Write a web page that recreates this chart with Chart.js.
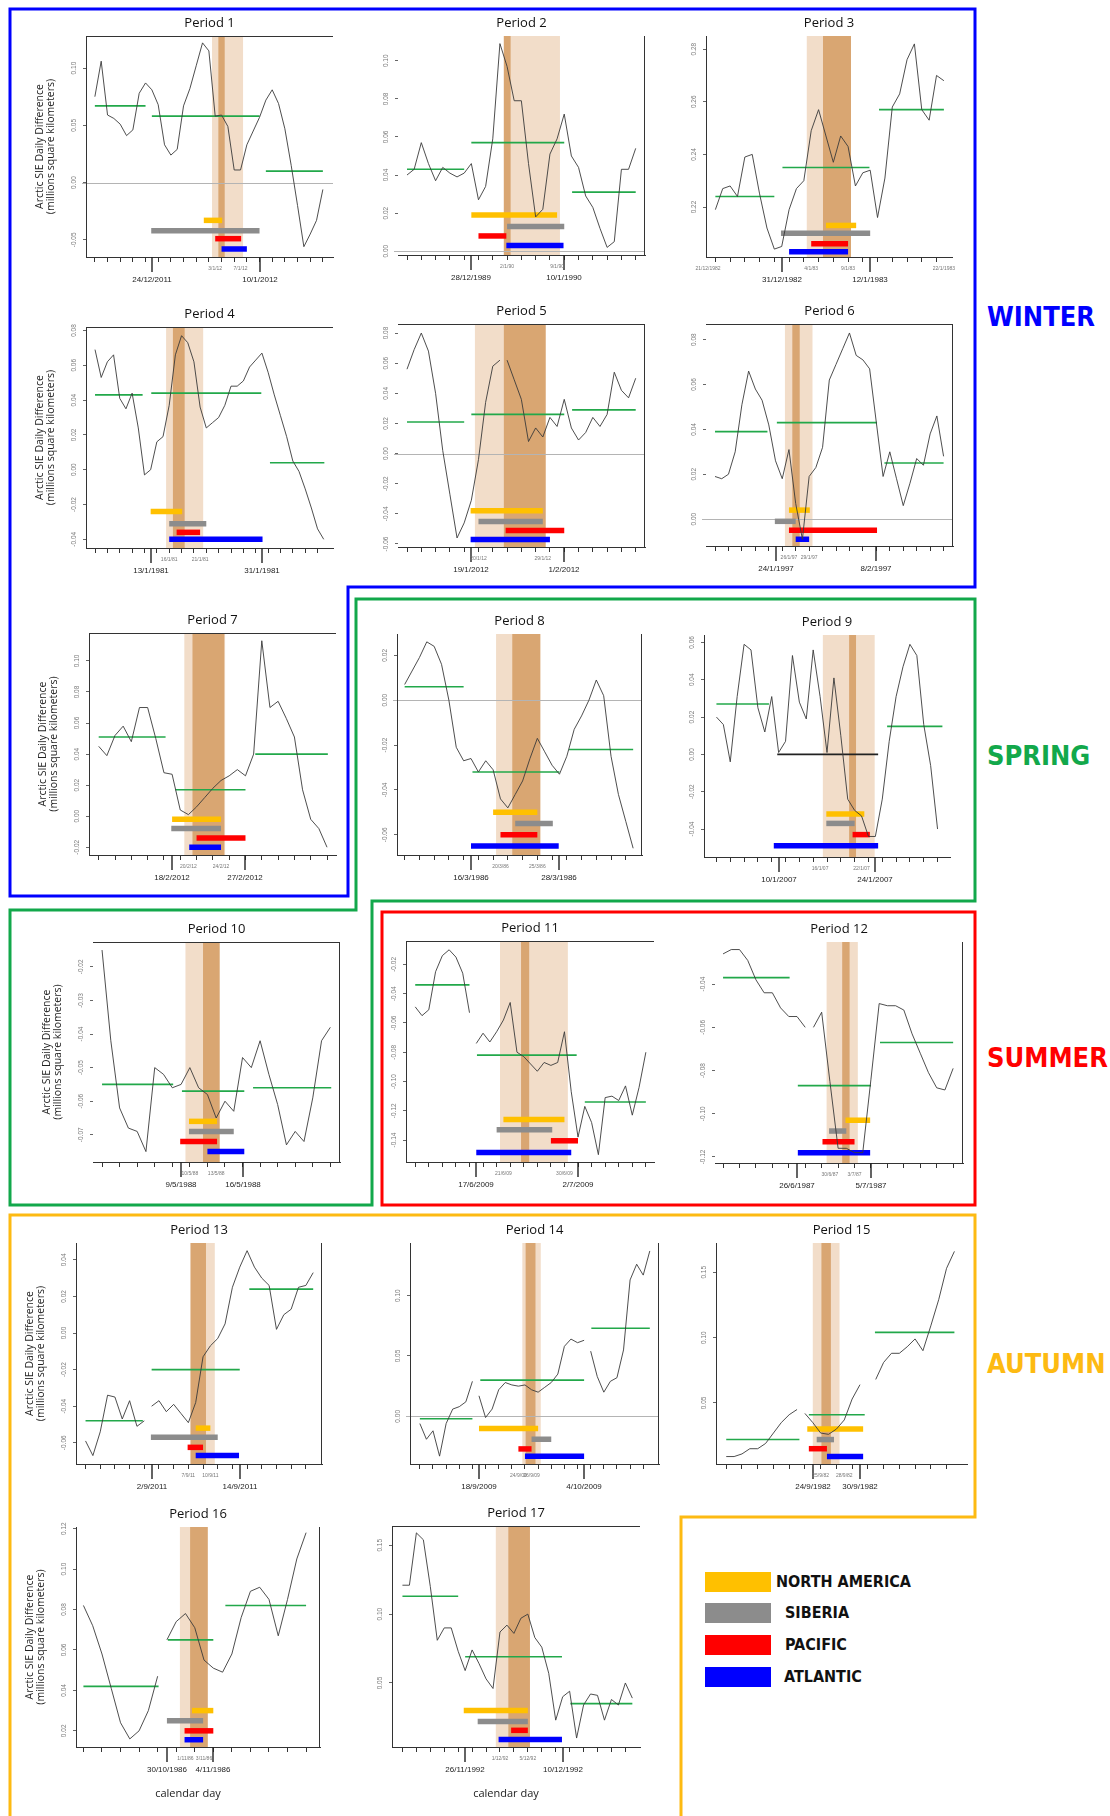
<!DOCTYPE html>
<html>
<head>
<meta charset="utf-8">
<script src="https://cdn.jsdelivr.net/npm/chart.js@4.4.1/dist/chart.umd.min.js"></script>
<style>
  body{margin:0;background:#fff;width:1110px;height:1816px;position:relative;overflow:hidden;font-family:'Open Sans',sans-serif}
  canvas{position:absolute}
  .season{position:absolute;left:987px;font:bold 27px 'DejaVu Sans Condensed','DejaVu Sans',sans-serif;line-height:27px}
  .lg-box{position:absolute;left:705px;width:66px;height:20px}
  .lg-txt{position:absolute;font:bold 16px 'DejaVu Sans Condensed','DejaVu Sans',sans-serif;line-height:20px;color:#111}
</style>
</head>
<body>
<svg width="1110" height="1816" style="position:absolute;left:0;top:0">
  <polygon points="10,9 975,9 975,587 348,587 348,896 10,896" fill="none" stroke="#0000ff" stroke-width="3"/>
  <polygon points="356,599 975,599 975,901 372,901 372,1205 10,1205 10,910 356,910" fill="none" stroke="#12a84b" stroke-width="3"/>
  <rect x="382" y="912" width="593" height="293" fill="none" stroke="#ff0000" stroke-width="3"/>
  <polyline points="10,1816 10,1215 975,1215 975,1517 681,1517 681,1816" fill="none" stroke="#fdba12" stroke-width="3"/>
</svg>
<div class="season" style="top:303px;color:#0000ff">WINTER</div>
<div class="season" style="top:742px;color:#12a84b">SPRING</div>
<div class="season" style="top:1044px;color:#ff0000">SUMMER</div>
<div class="season" style="top:1350px;color:#fdba12">AUTUMN</div>
<div id="legend"></div>

<script>
/* ---- regions (bar colours + legend) ---- */
const regions = ['NORTH AMERICA','SIBERIA','PACIFIC','ATLANTIC'];
const regionColors = ['#ffc000','#8c8c8c','#ff0000','#0000ff'];

/* ---- series: daily SIE difference, one value per day ---- */
const p1Y = [0.075,0.106,0.059,0.056,0.051,0.041,0.046,0.078,0.087,0.081,0.068,0.033,0.024,0.029,0.067,0.082,0.102,0.122,0.115,0.058,0.059,0.049,0.011,0.011,0.033,0.045,0.057,0.072,0.081,0.069,0.047,0.015,-0.020,-0.056,-0.045,-0.033,-0.006];
const p2Y = [0.040,0.043,0.057,0.046,0.037,0.044,0.041,0.039,0.041,0.046,0.027,0.034,0.059,0.109,0.097,0.079,0.079,0.046,0.018,0.022,0.051,0.059,0.072,0.050,0.044,0.029,0.023,0.012,0.002,0.005,0.043,0.043,0.054];
const p3Y = [0.219,0.227,0.228,0.224,0.239,0.240,0.225,0.212,0.204,0.205,0.219,0.227,0.230,0.249,0.257,0.247,0.237,0.247,0.243,0.228,0.233,0.234,0.216,0.231,0.258,0.263,0.276,0.282,0.257,0.253,0.270,0.268];
const p4Y = [0.069,0.053,0.062,0.066,0.041,0.035,0.044,0.024,-0.003,0.000,0.016,0.019,0.037,0.066,0.077,0.073,0.062,0.036,0.024,0.027,0.030,0.037,0.048,0.048,0.051,0.059,0.063,0.067,0.056,0.043,0.031,0.019,0.005,-0.001,-0.011,-0.022,-0.034,-0.040];
const p5Y = [0.056,0.069,0.080,0.068,0.040,0.002,-0.027,-0.056,-0.046,-0.031,-0.004,0.034,0.058,0.062,0.062,0.049,0.036,0.008,0.017,0.011,0.024,0.018,0.036,0.017,0.009,0.014,0.024,0.018,0.026,0.054,0.042,0.037,0.050];
const p6Y = [0.019,0.018,0.020,0.030,0.051,0.066,0.058,0.053,0.042,0.026,0.018,0.031,0.007,-0.009,0.019,0.023,0.032,0.062,0.069,0.076,0.083,0.073,0.071,0.067,0.043,0.019,0.030,0.018,0.006,0.016,0.027,0.024,0.038,0.046,0.028];
const p7Y = [0.045,0.039,0.052,0.058,0.048,0.070,0.070,0.050,0.028,0.027,0.004,0.001,0.006,0.012,0.018,0.023,0.026,0.030,0.026,0.040,0.113,0.070,0.074,0.063,0.051,0.017,-0.002,-0.008,-0.020];
const p8Y = [0.007,0.013,0.019,0.026,0.024,0.016,0.000,-0.021,-0.027,-0.026,-0.032,-0.027,-0.031,-0.044,-0.048,-0.042,-0.036,-0.026,-0.017,-0.023,-0.029,-0.033,-0.025,-0.013,-0.007,0.000,0.009,0.002,-0.025,-0.042,-0.054,-0.066];
const p9Y = [0.020,0.016,-0.004,0.031,0.059,0.056,0.025,0.012,0.031,0.001,0.007,0.053,0.028,0.019,0.056,0.031,0.001,0.041,0.010,-0.024,-0.030,-0.033,-0.044,-0.044,-0.024,0.007,0.031,0.047,0.059,0.053,0.016,-0.006,-0.040];
const p10Y = [-0.015,-0.042,-0.062,-0.068,-0.069,-0.075,-0.050,-0.052,-0.056,-0.055,-0.050,-0.056,-0.058,-0.065,-0.060,-0.063,-0.047,-0.050,-0.042,-0.052,-0.061,-0.073,-0.069,-0.072,-0.059,-0.042,-0.038];
const p11Y = [-0.049,-0.055,-0.051,-0.025,-0.014,-0.010,-0.015,-0.026,-0.053,-0.074,-0.067,-0.073,-0.066,-0.058,-0.046,-0.080,-0.083,-0.088,-0.093,-0.087,-0.089,-0.087,-0.066,-0.107,-0.138,-0.117,-0.128,-0.150,-0.111,-0.110,-0.113,-0.103,-0.123,-0.104,-0.080];
const p12Y = [-0.026,-0.024,-0.024,-0.029,-0.038,-0.044,-0.044,-0.051,-0.055,-0.055,-0.060,-0.060,-0.053,-0.085,-0.116,-0.116,-0.118,-0.118,-0.084,-0.049,-0.050,-0.050,-0.052,-0.063,-0.072,-0.081,-0.088,-0.089,-0.079];
const p13Y = [-0.059,-0.067,-0.054,-0.034,-0.035,-0.047,-0.037,-0.051,-0.048,-0.040,-0.037,-0.043,-0.039,-0.044,-0.049,-0.038,-0.013,-0.007,-0.003,0.005,0.025,0.036,0.045,0.036,0.030,0.026,0.002,0.010,0.013,0.025,0.026,0.033];
const p14Y = [-0.006,-0.019,-0.012,-0.033,-0.006,0.006,0.008,0.012,0.029,0.017,-0.001,0.006,0.022,0.028,0.026,0.025,0.026,0.022,0.020,0.024,0.028,0.035,0.058,0.064,0.061,0.063,0.054,0.033,0.020,0.029,0.032,0.055,0.113,0.126,0.117,0.137];
const p15Y = [0.009,0.009,0.011,0.015,0.015,0.019,0.027,0.035,0.041,0.045,0.042,0.035,0.027,0.026,0.030,0.037,0.053,0.064,null,0.068,0.081,0.088,0.088,0.093,0.099,0.090,0.109,0.129,0.153,0.166];
const p16Y = [0.082,0.072,0.058,0.041,0.024,0.016,0.020,0.030,0.047,0.065,0.074,0.078,0.071,0.055,0.051,0.049,0.058,0.076,0.089,0.091,0.085,0.067,0.085,0.105,0.118];
const p17Y = [0.121,0.121,0.159,0.154,0.120,0.081,0.090,0.090,0.073,0.059,0.074,0.064,0.053,0.046,0.087,0.092,0.086,0.097,0.100,0.083,0.076,0.057,0.023,0.040,0.044,0.010,0.034,0.042,0.041,0.023,0.038,0.034,0.050,0.039];

/* ---- days after which the line is broken ---- */
const breaks = {5:[13], 11:[8], 12:[10], 13:[8], 14:[8,25], 15:[9], 16:[8]};

/* ---- mean segments [fromDay, toDay, value] ---- */
const p1Means = [[0,8,0.067],[9,26,0.058],[27,36,0.010]];
const p2Means = [[0,8,0.043],[9,22,0.057],[23.1,32,0.031]];
const p3Means = [[0,8,0.224],[9.1,20.9,0.235],[22.2,31,0.257]];
const p4Means = [[0,7.7,0.043],[9.1,26.9,0.044],[28.3,37.1,0.004]];
const p5Means = [[0,8,0.021],[9,22,0.026],[23.1,32,0.029]];
const p6Means = [[0,7.8,0.039],[9.2,24.1,0.043],[25.2,34,0.025]];
const p7Means = [[0,8.2,0.051],[9.4,18,0.017],[19.2,28.1,0.040]];
const p8Means = [[0,8,0.006],[9.2,21,-0.032],[22.3,31,-0.022]];
const p9Means = [[0,7.6,0.027],[8.8,23.4,0.000],[24.7,32.7,0.015]];
const p10Means = [[0,8.1,-0.055],[9.1,16.2,-0.057],[17.2,26.1,-0.056]];
const p11Means = [[0,8,-0.034],[9.1,23.8,-0.082],[25,34,-0.114]];
const p12Means = [[0,8.1,-0.037],[9.1,18,-0.087],[19.1,28,-0.067]];
const p13Means = [[0,7.8,-0.048],[9,21,-0.020],[22.3,31,0.024]];
const p14Means = [[0,8,-0.002],[9.2,25,0.030],[26.1,35,0.073]];
const p15Means = [[0,9.3,0.022],[10.5,17.6,0.041],[18.9,29,0.104]];
const p16Means = [[0,8.1,0.042],[9.1,14,0.065],[15.3,24,0.082]];
const p17Means = [[0,8,0.113],[9,22.9,0.069],[24.1,33,0.035]];

/* ---- region bars [fromDay, toDay, level], order as regions ---- */
const p1Bars = [[17.2,20.1,-0.033],[8.9,26,-0.042],[19,23.1,-0.049],[20,24,-0.058]];
const p2Bars = [[9,21,0.019],[14,22,0.013],[10,13.9,0.008],[13.9,21.9,0.003]];
const p3Bars = [[15,19.1,0.213],[8.9,21,0.210],[13,18,0.206],[10,18,0.203]];
const p4Bars = [[9,14.1,-0.024],[12,18,-0.031],[13.2,17,-0.036],[12,27.1,-0.040]];
const p5Bars = [[8.9,19,-0.038],[10,19,-0.045],[13.8,22,-0.051],[8.9,20,-0.057]];
const p6Bars = [[11,14.1,0.004],[8.9,12,-0.001],[11,24.1,-0.005],[12,14,-0.009]];
const p7Bars = [[9,15,-0.002],[8.9,15,-0.008],[12,18,-0.014],[11.1,15,-0.020]];
const p8Bars = [[12,18,-0.050],[15,20.1,-0.055],[13,18,-0.060],[9,20.9,-0.065]];
const p9Bars = [[15.9,21.4,-0.032],[15.9,20,-0.037],[19.7,22.2,-0.043],[8.3,23.4,-0.049]];
const p10Bars = [[9.9,13.1,-0.066],[9.9,15,-0.069],[8.9,13.1,-0.072],[12,16.2,-0.075]];
const p11Bars = [[13,22,-0.126],[12,20.2,-0.133],[20,24,-0.1405],[9,23,-0.1485]];
const p12Bars = [[14.9,17.9,-0.103],[12.9,15,-0.108],[12.1,16,-0.113],[9.1,17.9,-0.118]];
const p13Bars = [[15,17,-0.052],[8.9,18,-0.057],[13.9,16,-0.0625],[15,20.9,-0.067]];
const p14Bars = [[9,18,-0.010],[17,20,-0.019],[15,17,-0.027],[16,25,-0.033]];
const p15Bars = [[10.3,17.4,0.030],[11.5,13.7,0.022],[10.5,12.8,0.015],[12.8,17.4,0.009]];
const p16Bars = [[11.7,14,0.030],[9,12.9,0.025],[10.9,14,0.020],[10.9,12.9,0.0156]];
const p17Bars = [[8.8,18,0.030],[10.8,18,0.022],[15.6,18,0.0156],[13.8,22.9,0.009]];

/* ---- shaded windows [from, to] : light band and dark core ---- */
const bands = {1:[18.5,23.4],2:[13.55,21.4],3:[12.4,18.4],4:[11.5,17.5],5:[9.5,19.4],6:[10.4,14.5],7:[10.5,15.5],8:[12.4,18.4],9:[15.4,22.9],
  10:[9.5,11.5],11:[12.5,22.5],12:[12.6,16.4],13:[14.3,17.6],14:[15.6,18.4],15:[11,14.4],16:[10.4,13.4],17:[13.4,18.3]};
const cores = {1:[19.5,20.5],2:[13.55,14.5],3:[14.6,18.4],4:[12.6,14.5],5:[13.55,19.4],6:[11.5,12.6],7:[11.5,15.4],8:[14.6,18.4],9:[19.2,20.2],
  10:[11.5,13.4],11:[15.6,16.8],12:[14.5,15.4],13:[14.3,16.4],14:[16.1,17.6],15:[12.1,13.3],16:[11.5,13.4],17:[15.2,18.3]};

/* ---- calendar labels [day, text] ---- */
const dates = {1:[[9,'24/12/2011'],[26,'10/1/2012']],2:[[9,'28/12/1989'],[22,'10/1/1990']],3:[[9,'31/12/1982'],[21,'12/1/1983']],
  4:[[9,'13/1/1981'],[27,'31/1/1981']],5:[[9,'19/1/2012'],[22,'1/2/2012']],6:[[9,'24/1/1997'],[24,'8/2/1997']],
  7:[[9,'18/2/2012'],[18,'27/2/2012']],8:[[9,'16/3/1986'],[21,'28/3/1986']],9:[[9,'10/1/2007'],[23,'24/1/2007']],
  10:[[9,'9/5/1988'],[16,'16/5/1988']],11:[[9,'17/6/2009'],[24,'2/7/2009']],12:[[9,'26/6/1987'],[18,'5/7/1987']],
  13:[[9,'2/9/2011'],[21,'14/9/2011']],14:[[9,'18/9/2009'],[25,'4/10/2009']],15:[[11,'24/9/1982'],[17,'30/9/1982']],
  16:[[9,'30/10/1986'],[14,'4/11/1986']],17:[[9,'26/11/1992'],[23,'10/12/1992']]};
const marks = {1:[[19,'3/1/12'],[23,'7/1/12']],2:[[14,'2/1/90'],[21,'9/1/90']],3:[[-1,'21/12/1982'],[13,'4/1/83'],[18,'9/1/83'],[31,'22/1/1983']],
  4:[[12,'16/1/81'],[17,'21/1/81']],5:[[10,'20/1/12'],[19,'29/1/12']],6:[[11,'26/1/97'],[14,'29/1/97']],7:[[11,'20/2/12'],[15,'24/2/12']],
  8:[[13,'20/3/86'],[18,'25/3/86']],9:[[15,'16/1/07'],[21,'22/1/07']],10:[[10,'10/5/88'],[13,'13/5/88']],11:[[13,'21/6/09'],[22,'30/6/09']],
  12:[[13,'30/6/87'],[16,'3/7/87']],13:[[14,'7/9/11'],[17,'10/9/11']],14:[[15,'24/9/09'],[17,'26/9/09']],15:[[12,'25/9/82'],[15,'28/9/82']],
  16:[[11,'1/11/86'],[13,'3/11/86']],17:[[14,'1/12/92'],[18,'5/12/92']]};

/* ---- axis ranges and y ticks ---- */
const xRanges = {1:[-1.4,37.6],2:[-1.26,33.3],3:[-1.27,32.1],4:[-1.46,38.5],5:[-1.26,33.3],6:[-1.34,35.4],7:[-1.19,29.1],8:[-1.04,32.2],9:[-1.8,33.8],
  10:[-1.03,27.1],11:[-1.36,35.2],12:[-0.98,29.2],13:[-1.3,32.2],14:[-1.5,36.4],15:[-1.3,30.6],16:[-0.8,25.5],17:[-1.5,34.1]};
const yRanges = {1:[-0.065,0.128],2:[-0.002,0.113],3:[0.201,0.285],4:[-0.045,0.082],5:[-0.062,0.086],6:[-0.012,0.087],7:[-0.025,0.118],8:[-0.069,0.0295],
  9:[-0.055,0.064],10:[-0.0781,-0.0126],11:[-0.155,-0.004],12:[-0.1228,-0.0205],13:[-0.0716,0.0492],14:[-0.0395,0.1436],15:[0.0033,0.1724],16:[0.012,0.1208],17:[0.0035,0.164]};
const yTicks = {1:[-0.05,0,0.05,0.10],2:[0,0.02,0.04,0.06,0.08,0.10],3:[0.22,0.24,0.26,0.28],4:[-0.04,-0.02,0,0.02,0.04,0.06,0.08],
  5:[-0.06,-0.04,-0.02,0,0.02,0.04,0.06,0.08],6:[0,0.02,0.04,0.06,0.08],7:[-0.02,0,0.02,0.04,0.06,0.08,0.10],8:[-0.06,-0.04,-0.02,0,0.02],
  9:[-0.04,-0.02,0,0.02,0.04,0.06],10:[-0.07,-0.06,-0.05,-0.04,-0.03,-0.02],11:[-0.14,-0.12,-0.10,-0.08,-0.06,-0.04,-0.02],
  12:[-0.12,-0.10,-0.08,-0.06,-0.04],13:[-0.06,-0.04,-0.02,0,0.02,0.04],14:[0,0.05,0.10],15:[0.05,0.10,0.15],16:[0.02,0.04,0.06,0.08,0.10,0.12],17:[0.05,0.10,0.15]};

/* ---- layout: plot box [left, top, right, bottom, frame sides] ---- */
const boxes = {1:[86,36,333,257,'lt'],2:[398,36,645,255,'r'],3:[706,36,952,257,'l'],
  4:[86,327,333,548,'lt'],5:[398,324,645,547,'tr'],6:[706,324,953,546,'tr'],
  7:[89,633,336,855,'lt'],8:[397,634,642,855,'lr'],9:[704,635,950,857,'l'],
  10:[93,942,340,1162,'tr'],11:[406,941,654,1162,'lt'],12:[715,942,963,1163,'r'],
  13:[76,1243,322,1464,'lr'],14:[410,1243,659,1464,'lr'],15:[716,1243,967,1464,'l'],
  16:[76,1527,320,1747,'lr'],17:[392,1526,640,1747,'lt']};
const yTitled = [1,4,7,10,13,16];
const xTitled = [16,17];
const zeroLine = [1,2,5,6,8,14];
const meanTint = {9:['#22a84a','#222','#22a84a']};

const series = [p1Y,p2Y,p3Y,p4Y,p5Y,p6Y,p7Y,p8Y,p9Y,p10Y,p11Y,p12Y,p13Y,p14Y,p15Y,p16Y,p17Y];
const meansAll = [p1Means,p2Means,p3Means,p4Means,p5Means,p6Means,p7Means,p8Means,p9Means,p10Means,p11Means,p12Means,p13Means,p14Means,p15Means,p16Means,p17Means];
const barsAll = [p1Bars,p2Bars,p3Bars,p4Bars,p5Bars,p6Bars,p7Bars,p8Bars,p9Bars,p10Bars,p11Bars,p12Bars,p13Bars,p14Bars,p15Bars,p16Bars,p17Bars];

const PADL = 62, PADT = 34, PADR = 8, PADB = 62;
const LIGHT = '#f2ddc9', DARK = '#d9a672';

function fmt(v){ return (v < 0 ? '-' : '') + Math.abs(v).toFixed(2); }

function decor(n){
  const [,,,,sides] = boxes[n];
  return {
    id: 'decor',
    beforeDatasetsDraw(c){
      const {ctx, chartArea:a, scales:{x, y}} = c;
      ctx.save();
      const band = bands[n], core = cores[n];
      ctx.fillStyle = LIGHT;
      ctx.fillRect(x.getPixelForValue(band[0]), a.top, x.getPixelForValue(band[1]) - x.getPixelForValue(band[0]), a.bottom - a.top);
      ctx.fillStyle = DARK;
      ctx.fillRect(x.getPixelForValue(core[0]), a.top, x.getPixelForValue(core[1]) - x.getPixelForValue(core[0]), a.bottom - a.top);
      if (zeroLine.includes(n)) {
        const py = Math.round(y.getPixelForValue(0)) + 0.5;
        ctx.strokeStyle = '#b4b4b4'; ctx.lineWidth = 1;
        ctx.beginPath(); ctx.moveTo(a.left - 4, py); ctx.lineTo(a.right, py); ctx.stroke();
      }
      ctx.restore();
    },
    afterDraw(c){
      const {ctx, chartArea:a, scales:{x, y}} = c;
      ctx.save();
      // frame sides
      ctx.strokeStyle = '#333'; ctx.lineWidth = 1;
      ctx.beginPath();
      if (sides.includes('l')) { ctx.moveTo(a.left + 0.5, a.top); ctx.lineTo(a.left + 0.5, a.bottom); }
      if (sides.includes('t')) { ctx.moveTo(a.left, a.top + 0.5); ctx.lineTo(a.right, a.top + 0.5); }
      if (sides.includes('r')) { ctx.moveTo(a.right - 0.5, a.top); ctx.lineTo(a.right - 0.5, a.bottom); }
      ctx.stroke();
      // title
      ctx.fillStyle = '#111'; ctx.textAlign = 'center'; ctx.textBaseline = 'middle';
      ctx.font = '13px "Open Sans"';
      ctx.fillText('Period ' + n, (a.left + a.right) / 2, a.top - 13);
      // y tick labels, vertical
      ctx.font = '6.5px "Liberation Sans"'; ctx.fillStyle = '#7a7a7a';
      yTicks[n].forEach(v => {
        ctx.save(); ctx.translate(a.left - 12, y.getPixelForValue(v)); ctx.rotate(-Math.PI / 2);
        ctx.fillText(fmt(v), 0, 0); ctx.restore();
      });
      // calendar dates
      ctx.strokeStyle = '#222'; ctx.lineWidth = 1.4; ctx.fillStyle = '#222';
      ctx.font = '8px "Liberation Sans"';
      dates[n].forEach(([d, t]) => {
        const px = Math.round(x.getPixelForValue(d));
        ctx.beginPath(); ctx.moveTo(px, a.bottom); ctx.lineTo(px, a.bottom + 15); ctx.stroke();
        ctx.fillText(t, px, a.bottom + 23);
      });
      ctx.font = '5px "Liberation Sans"'; ctx.fillStyle = '#777';
      marks[n].forEach(([d, t]) => ctx.fillText(t, x.getPixelForValue(d), a.bottom + 12));
      // axis titles
      ctx.fillStyle = '#222'; ctx.font = '10.5px "Open Sans"';
      if (yTitled.includes(n)) {
        const cy = (a.top + a.bottom) / 2;
        [['Arctic SIE Daily Difference', -46], ['(millions square kilometers)', -35]].forEach(([t, dx]) => {
          ctx.save(); ctx.translate(a.left + dx, cy); ctx.rotate(-Math.PI / 2); ctx.fillText(t, 0, 0); ctx.restore();
        });
      }
      if (xTitled.includes(n)) { ctx.font = '11px "Open Sans"'; ctx.fillText('calendar day', (a.left + a.right) / 2 - 10, a.bottom + 47); }
      ctx.restore();
    }
  };
}

for (let n = 1; n <= 17; n++) {
  const [L, T, R, B] = boxes[n];
  const cv = document.createElement('canvas');
  cv.width = R - L + PADL + PADR; cv.height = B - T + PADT + PADB;
  cv.style.left = (L - PADL) + 'px'; cv.style.top = (T - PADT) + 'px';
  document.body.appendChild(cv);

  const vals = series[n - 1], br = breaks[n] || [];
  const pts = [];
  vals.forEach((v, i) => { pts.push({x: i, y: v}); if (br.includes(i)) pts.push({x: i + 0.5, y: null}); });
  const xt = [];
  for (let i = 0; i < vals.length; i += 2) xt.push(i);

  const ds = [{data: pts, borderColor: '#3a3a3a', borderWidth: 0.9, pointRadius: 0, spanGaps: false}];
  meansAll[n - 1].forEach((m, k) => ds.push({
    data: [{x: m[0], y: m[2]}, {x: m[1], y: m[2]}],
    borderColor: (meanTint[n] || [])[k] || '#22a84a', borderWidth: 1.6, pointRadius: 0
  }));
  barsAll[n - 1].forEach((b, k) => ds.push({
    data: [{x: b[0], y: b[2]}, {x: b[1], y: b[2]}],
    borderColor: regionColors[k], borderWidth: 5.5, borderCapStyle: 'butt', pointRadius: 0
  }));

  new Chart(cv, {
    type: 'line',
    data: {datasets: ds},
    options: {
      responsive: false, animation: false, events: [],
      layout: {padding: {left: 0, top: PADT, right: PADR, bottom: 0}},
      plugins: {legend: {display: false}, tooltip: {enabled: false}},
      scales: {
        x: {type: 'linear', min: xRanges[n][0], max: xRanges[n][1],
            afterBuildTicks: s => { s.ticks = xt.map(v => ({value: v})); },
            afterFit: s => { s.height = PADB; },
            ticks: {display: false, autoSkip: false},
            grid: {drawOnChartArea: false, tickLength: 5, color: '#333'},
            border: {display: true, color: '#333'}},
        y: {type: 'linear', min: yRanges[n][0], max: yRanges[n][1],
            afterBuildTicks: s => { s.ticks = yTicks[n].map(v => ({value: v})); },
            afterFit: s => { s.width = PADL; },
            ticks: {display: false},
            grid: {drawOnChartArea: false, tickLength: 3, color: '#666'},
            border: {display: false}}
      }
    },
    plugins: [decor(n)]
  });
}

// legend
const lg = document.getElementById('legend');
const lgTop = [1572, 1603, 1635, 1667], lgLeft = [776, 785, 785, 784];
regions.forEach((r, i) => {
  lg.insertAdjacentHTML('beforeend',
    `<div class="lg-box" style="top:${lgTop[i]}px;background:${regionColors[i]}"></div>` +
    `<div class="lg-txt" style="top:${lgTop[i]}px;left:${lgLeft[i]}px">${r}</div>`);
});
</script>
</body>
</html>
